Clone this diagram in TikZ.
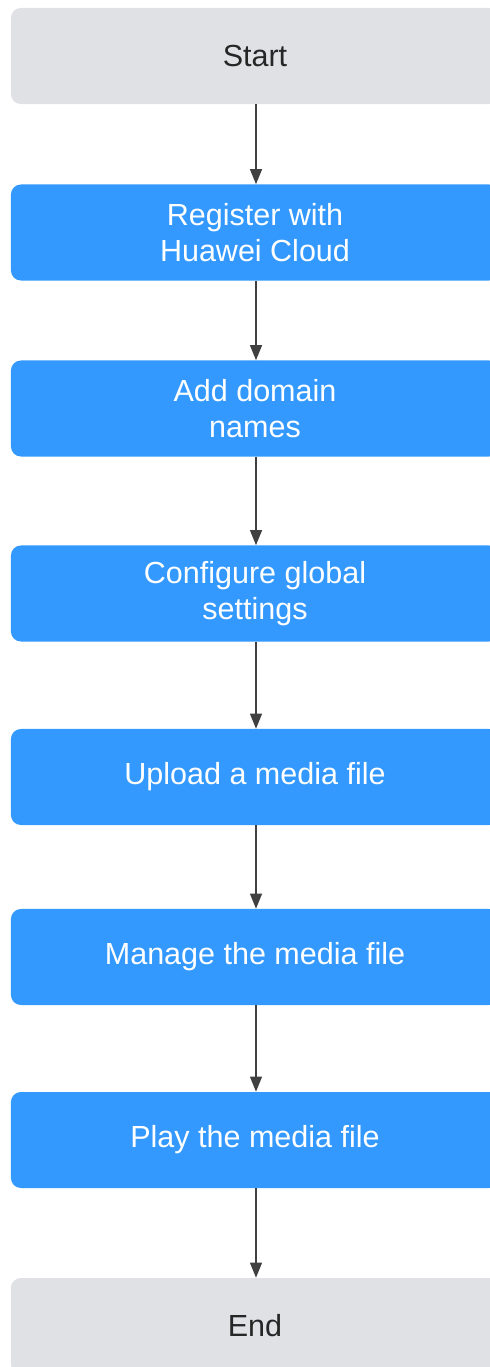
\documentclass[tikz,border=0pt]{standalone}
\usepackage{fontspec}
\setmainfont{Liberation Sans}
\usetikzlibrary{arrows.meta}
\definecolor{stepblue}{RGB}{51,153,255}
\definecolor{termgrey}{RGB}{223,225,229}
\definecolor{flowgrey}{RGB}{64,64,64}
\begin{document}
\begin{tikzpicture}[x=0.025cm,y=-0.025cm]
\tikzstyle{every node}+=[font=\fontsize{21.7}{26}\selectfont, align=center, inner sep=0pt]
\tikzstyle{stepbox}=[minimum width=12.2cm, minimum height=2.4cm, rounded corners=0.25cm]
\tikzstyle{term}=[stepbox, fill=termgrey, text=black!85]
\tikzstyle{task}=[stepbox, fill=stepblue, text=white]
\tikzstyle{flow}=[draw=flowgrey, line width=1.1pt, -{Triangle[length=0.38cm,width=0.3cm]}]
\useasboundingbox (0,0) rectangle (489,1367);
\node [term] (start) at (255,56) {Start};
\node [task] (register) at (255,232.5) {Register with\\Huawei Cloud};
\node [task] (domain) at (255,408.5) {Add domain\\names};
\node [task] (config) at (255,593.5) {Configure global\\settings};
\node [task] (upload) at (255,777) {Upload a media file};
\node [task] (manage) at (255,957) {Manage the media file};
\node [task] (play) at (255,1140) {Play the media file};
\node [term] (end) at (255,1326) {End};
\draw [flow] ([xshift=0.025cm]start.south) -- ([xshift=0.025cm]register.north);
\draw [flow] ([xshift=0.025cm]register.south) -- ([xshift=0.025cm]domain.north);
\draw [flow] ([xshift=0.025cm]domain.south) -- ([xshift=0.025cm]config.north);
\draw [flow] ([xshift=0.025cm]config.south) -- ([xshift=0.025cm]upload.north);
\draw [flow] ([xshift=0.025cm]upload.south) -- ([xshift=0.025cm]manage.north);
\draw [flow] ([xshift=0.025cm]manage.south) -- ([xshift=0.025cm]play.north);
\draw [flow] ([xshift=0.025cm]play.south) -- ([xshift=0.025cm]end.north);
\end{tikzpicture}
\end{document}
